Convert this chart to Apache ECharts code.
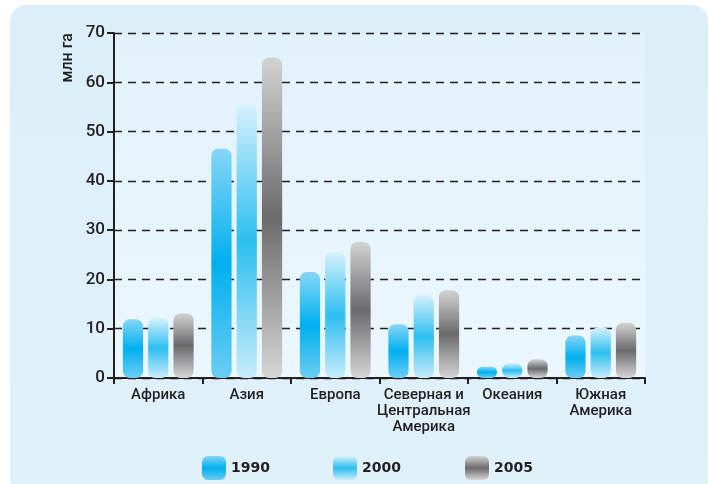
<!DOCTYPE html>
<head>
    <meta charset="utf-8">
    <title>ECharts</title>
</head>
<body style="margin:0;background:#fff">
   <div id="main" style="width:709px;height:484px"></div>
     <script src="https://cdn.jsdelivr.net/npm/echarts@6/dist/echarts.min.js"></script>
      <script type="text/javascript">

    var regions = ['Африка', 'Азия', 'Европа', 'Северная и\nЦентральная\nАмерика', 'Океания', 'Южная\nАмерика'];
    var years = ['1990', '2000', '2005'];
    var v1990 = [11.9, 46.5, 21.5, 10.9, 2.3, 8.6];
    var v2000 = [12.2, 55.5, 25.5, 16.8, 3.0, 10.2];
    var v2005 = [13.1, 65.0, 27.6, 17.8, 3.8, 11.2];
    var yTicks = [0, 10, 20, 30, 40, 50, 60, 70];

    // вертикальный градиент: светлый край, насыщенная середина
    function grad(edgeTop, mid, edgeBottom) {
        return new echarts.graphic.LinearGradient(0, 0, 0, 1, [
            {offset: 0, color: edgeTop},
            {offset: 0.5, color: mid},
            {offset: 1, color: edgeBottom}
        ]);
    }
    var colors = [
        grad('#86d6f6', '#00b0ef', '#6ccdf4'),
        grad('#d6f1fc', '#2cbff0', '#c9ecfb'),
        grad('#d3d3d4', '#6a6a6c', '#d6d6d7')
    ];

    var myChart = echarts.init(document.getElementById('main'));
    var font = "Roboto, 'Liberation Sans', sans-serif";

    function legendAt(name, left) {
        return {
            data: [name], left: left, top: 451, itemWidth: 24, itemHeight: 24,
            icon: 'roundRect', itemGap: 0,
            textStyle: {fontFamily: "'DejaVu Sans', sans-serif", fontWeight: 'bold', fontSize: 14, color: '#231f20', padding: [2, 0, 0, 0]}
        };
    }

    var option = {
        animation: false,
        graphic: [{
            type: 'rect', z: -10, silent: true,
            shape: {x: 10, y: 5, width: 698, height: 490, r: 16},
            style: {fill: new echarts.graphic.LinearGradient(0, 0, 0, 1, [
                {offset: 0, color: '#dceef9'}, {offset: 1, color: '#e0f1fa'}])}
        }],
        grid: {
            left: 114, right: 64, top: 33, bottom: 106, show: true, borderWidth: 0,
            backgroundColor: new echarts.graphic.LinearGradient(0, 0, 0, 1, [
                {offset: 0, color: '#e2f2fb'}, {offset: 1, color: '#ebf7fd'}])
        },
        legend: [legendAt('1990', 197), legendAt('2000', 328), legendAt('2005', 460)],
        xAxis: {
            type: 'category',
            data: regions,
            axisLine: {lineStyle: {color: '#231f20', width: 2}},
            axisTick: {show: true, length: 6, lineStyle: {color: '#231f20', width: 2}},
            axisLabel: {color: '#231f20', fontFamily: font, fontWeight: 500, fontSize: 15, lineHeight: 16, margin: 9, interval: 0}
        },
        yAxis: {
            type: 'value', min: yTicks[0], max: yTicks[yTicks.length - 1], interval: 10,
            name: 'млн га', nameLocation: 'end', nameRotate: 90, nameGap: 0,
            nameTextStyle: {color: '#231f20', fontFamily: font, fontWeight: 500, fontSize: 16, align: 'right', verticalAlign: 'bottom', padding: [0, 0, 38, 0]},
            axisLine: {show: true, lineStyle: {color: '#231f20', width: 2}},
            axisTick: {show: true, length: 7, lineStyle: {color: '#231f20', width: 2}},
            axisLabel: {color: '#231f20', fontFamily: font, fontWeight: 500, fontSize: 17, margin: 9},
            splitLine: {lineStyle: {color: '#231f20', type: [8, 6], width: 1.3}}
        },
        series: [
            {name: years[0], type: 'bar', data: v1990, barGap: '25%', barCategoryGap: '20%', itemStyle: {color: colors[0], borderRadius: 7}},
            {name: years[1], type: 'bar', data: v2000, itemStyle: {color: colors[1], borderRadius: 7}},
            {name: years[2], type: 'bar', data: v2005, itemStyle: {color: colors[2], borderRadius: 7}}
        ]
    };
    myChart.setOption(option);

</script>
</body>
